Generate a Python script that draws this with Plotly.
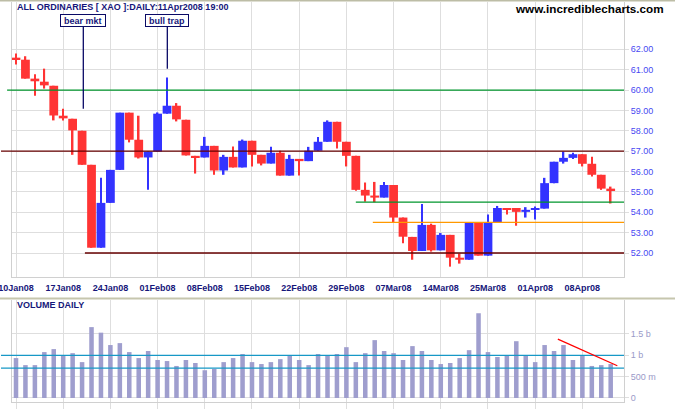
import plotly.graph_objects as go

# ---------------- data ----------------
dates = ["10Jan08", "11Jan08", "14Jan08", "15Jan08", "16Jan08", "17Jan08", "18Jan08",
         "21Jan08", "22Jan08", "23Jan08", "24Jan08", "25Jan08", "29Jan08", "30Jan08",
         "31Jan08", "01Feb08", "04Feb08", "05Feb08", "06Feb08", "07Feb08", "08Feb08",
         "11Feb08", "12Feb08", "13Feb08", "14Feb08", "15Feb08", "18Feb08", "19Feb08",
         "20Feb08", "21Feb08", "22Feb08", "25Feb08", "26Feb08", "27Feb08", "28Feb08",
         "29Feb08", "03Mar08", "04Mar08", "05Mar08", "06Mar08", "07Mar08", "10Mar08",
         "11Mar08", "12Mar08", "13Mar08", "14Mar08", "17Mar08", "18Mar08", "19Mar08",
         "20Mar08", "25Mar08", "26Mar08", "27Mar08", "28Mar08", "31Mar08", "01Apr08",
         "02Apr08", "03Apr08", "04Apr08", "07Apr08", "08Apr08", "09Apr08", "10Apr08",
         "11Apr08"]

opens = [61.59, 61.49, 60.56, 60.41, 60.21, 58.74, 58.59, 58.00, 56.33, 52.26,
         54.46, 56.08, 58.89, 57.56, 56.69, 56.98, 58.84, 59.23, 58.54, 56.77,
         56.69, 57.26, 56.05, 56.72, 56.20, 57.51, 56.82, 56.39, 56.92, 55.80,
         56.62, 56.51, 57.02, 57.46, 58.44, 57.46, 56.77, 55.10, 54.82, 54.72,
         55.34, 53.74, 52.79, 52.10, 53.38, 52.13, 52.89, 51.77, 51.67, 53.51,
         51.87, 53.51, 54.21, 54.21, 54.02, 54.12, 54.18, 55.43, 56.48, 56.67,
         56.85, 56.38, 55.84, 55.16]
highs = [61.79, 61.66, 60.77, 61.05, 60.21, 59.08, 58.59, 58.00, 56.33, 55.70,
         56.08, 58.89, 58.89, 58.74, 56.98, 58.90, 60.61, 59.36, 58.54, 56.77,
         57.70, 57.26, 56.82, 57.23, 57.57, 57.51, 56.82, 57.21, 57.02, 56.82,
         56.62, 57.21, 57.70, 58.51, 58.44, 57.46, 56.77, 55.46, 55.49, 55.49,
         55.34, 53.74, 52.79, 54.41, 53.44, 52.98, 52.89, 51.97, 53.51, 53.51,
         53.89, 54.31, 54.21, 54.21, 54.25, 54.28, 55.69, 56.48, 56.98, 56.92,
         56.85, 56.72, 55.84, 55.26]
lows = [61.25, 60.56, 59.72, 60.07, 58.51, 58.51, 56.82, 56.33, 52.26, 52.26,
        54.46, 56.08, 57.43, 56.64, 55.11, 56.98, 58.84, 58.46, 56.79, 55.90,
        56.69, 55.84, 55.84, 56.20, 56.20, 56.25, 56.30, 56.39, 55.80, 55.80,
        55.80, 56.51, 57.02, 57.46, 57.13, 56.25, 55.05, 54.52, 54.49, 54.72,
        53.49, 52.48, 51.67, 52.10, 52.07, 52.13, 51.33, 51.48, 51.67, 51.87,
        51.87, 53.51, 53.89, 53.34, 53.74, 53.64, 54.18, 55.43, 56.39, 56.62,
        56.25, 55.75, 55.10, 54.43]
closes = [61.51, 60.56, 60.43, 60.23, 58.75, 58.61, 58.02, 56.33, 52.26, 54.46,
          56.08, 58.89, 57.56, 56.69, 56.98, 58.84, 59.23, 58.56, 56.79, 56.69,
          57.26, 56.05, 56.72, 56.20, 57.51, 56.82, 56.39, 56.92, 55.80, 56.62,
          56.51, 57.02, 57.46, 58.44, 57.46, 56.77, 55.10, 54.82, 54.72, 55.34,
          53.74, 52.80, 52.10, 53.38, 52.13, 52.89, 51.77, 51.67, 53.51, 51.87,
          53.51, 54.21, 54.15, 54.02, 54.12, 54.18, 55.43, 56.48, 56.67, 56.85,
          56.38, 55.84, 55.16, 55.07]

# daily volume, billions of shares
volumes = [0.935, 0.77, 0.77, 1.075, 1.145, 1.005, 1.05, 0.84, 1.66, 1.53,
           1.24, 1.285, 1.075, 0.935, 1.10, 0.89, 0.865, 0.75, 0.89, 0.82,
           0.65, 0.68, 0.84, 0.935, 1.03, 0.84, 0.795, 0.84, 0.91, 1.005,
           0.89, 0.77, 1.03, 1.00, 1.03, 1.19, 0.84, 1.05, 1.355, 1.10,
           1.05, 0.89, 1.215, 1.10, 0.89, 0.795, 0.82, 0.935, 1.12, 1.985,
           1.075, 0.96, 1.00, 1.33, 1.00, 0.84, 1.24, 1.10, 1.24, 0.89,
           1.00, 0.75, 0.77, 0.795]

week_ticks = ["10Jan08", "17Jan08", "24Jan08", "01Feb08", "08Feb08", "15Feb08",
              "22Feb08", "29Feb08", "07Mar08", "14Mar08", "25Mar08", "01Apr08", "08Apr08"]
price_ticks = [52, 53, 54, 55, 56, 57, 58, 59, 60, 61, 62]
price_tick_text = ["%.2f" % v for v in price_ticks]
vol_ticks = [0, 0.5, 1.0, 1.5]
vol_tick_text = ["0", "500 m", "1 b", "1.5 b"]

# ---------------- styling ----------------
FONT = "Liberation Sans, Arial, sans-serif"
NAVY = "#16167A"
GRID = "#DEDEDE"
BORDER = "#D0D0D0"
UP = "#3333FF"
DOWN = "#FF3434"

candle_colors = [UP if c >= o else DOWN for o, c in zip(opens, closes)]
body_base = [min(o, c) for o, c in zip(opens, closes)]
body_len = [max(abs(c - o), 0.06) for o, c in zip(opens, closes)]
wick_len = [h - l for h, l in zip(highs, lows)]

fig = go.Figure()

# wicks (high-low range)
fig.add_trace(go.Bar(
    x=dates, y=wick_len, base=lows, width=0.17,
    marker=dict(color=candle_colors, line=dict(width=0)),
    hoverinfo="skip", showlegend=False, xaxis="x", yaxis="y",
))
# bodies (open-close range)
fig.add_trace(go.Bar(
    x=dates, y=body_len, base=body_base, width=0.93,
    marker=dict(color=candle_colors, line=dict(width=0)),
    hoverinfo="skip", showlegend=False, xaxis="x", yaxis="y",
))

fig.add_trace(go.Bar(
    x=dates, y=volumes, width=0.48, marker=dict(color="#9F9ECE", line=dict(width=0)),
    hoverinfo="skip", showlegend=False, xaxis="x2", yaxis="y2",
))

xrange = [-0.424, 64.41]
common_x = dict(type="category", categoryorder="array", categoryarray=dates,
                range=xrange, tickmode="array", tickvals=week_ticks,
                showgrid=True, gridcolor=GRID, gridwidth=1, zeroline=False,
                showline=True, linecolor=BORDER, linewidth=1, fixedrange=True,
                automargin=False)

fig.update_layout(
    width=675, height=410,
    margin=dict(l=12, r=51, t=2, b=8, autoexpand=False),
    paper_bgcolor="white", plot_bgcolor="white",
    barmode="overlay",
    font=dict(family=FONT, size=9, color=NAVY),
    xaxis=dict(common_x, domain=[0, 1], anchor="y",
               ticks="", showticklabels=True, ticklabelstandoff=2,
               tickfont=dict(family=FONT, size=9, color=NAVY, weight="bold")),
    yaxis=dict(domain=[0.3125, 1], range=[50.822, 64.322], side="right",
               tickmode="array", tickvals=price_ticks, ticktext=price_tick_text,
               showgrid=True, gridcolor=GRID, gridwidth=1, zeroline=False,
               showline=True, mirror=True, linecolor=BORDER, automargin=False,
               ticks="outside", ticklen=4, tickcolor=GRID,
               tickfont=dict(family=FONT, size=9, color="#4747F2"), fixedrange=True),
    xaxis2=dict(common_x, domain=[0, 1], anchor="y2", ticks="outside", ticklen=6,
                tickcolor=GRID, showticklabels=False),
    yaxis2=dict(domain=[0, 0.255], range=[-0.094, 2.295], side="right",
                tickmode="array", tickvals=vol_ticks, ticktext=vol_tick_text,
                showgrid=True, gridcolor=GRID, gridwidth=1, zeroline=False,
                showline=True, mirror=True, linecolor=BORDER, automargin=False,
                ticks="outside", ticklen=4, tickcolor=GRID,
                tickfont=dict(family=FONT, size=9, color="#9A9AC8"), fixedrange=True),
)

shapes = [
    # chart frame lines
    dict(type="line", xref="paper", yref="paper", x0=-0.03, x1=1.1, y0=1.004, y1=1.004,
         line=dict(color="#BDBDA6", width=2)),
    dict(type="line", xref="paper", yref="paper", x0=-0.03, x1=1.1, y0=0.259, y1=0.259,
         line=dict(color="#C6C6AE", width=2)),
    # support / resistance lines on price
    dict(type="line", xref="paper", yref="y", x0=-0.008, x1=1, y0=60, y1=60,
         line=dict(color="#00962D", width=1.3)),
    dict(type="line", xref="paper", yref="y", x0=-0.018, x1=1, y0=57, y1=57,
         line=dict(color="#660000", width=1.3)),
    dict(type="line", xref="x", yref="y", x0=7.3, x1=xrange[1], y0=52, y1=52,
         line=dict(color="#660000", width=1.3)),
    dict(type="line", xref="x", yref="y", x0=36, x1=xrange[1], y0=54.5, y1=54.5,
         line=dict(color="#00962D", width=1.3)),
    dict(type="line", xref="x", yref="y", x0=37.8, x1=xrange[1], y0=53.5, y1=53.5,
         line=dict(color="#FF9900", width=1.3)),
    # volume reference lines
    dict(type="line", xref="paper", yref="y2", x0=-0.018, x1=1, y0=1.0, y1=1.0,
         line=dict(color="#1798C6", width=1.3)),
    dict(type="line", xref="paper", yref="y2", x0=-0.018, x1=1, y0=0.70, y1=0.70,
         line=dict(color="#1798C6", width=1.3)),
    # declining volume trend
    dict(type="line", xref="x2", yref="y2", x0=57.4, x1=63.7, y0=1.38, y1=0.755,
         line=dict(color="#FF0000", width=1.3)),
]
fig.update_layout(shapes=shapes)

annotations = [
    dict(text="ALL ORDINARIES [ XAO ]:DAILY:11Apr2008 19:00", xref="paper", yref="paper",
         x=0.0049, y=0.988, xanchor="left", yanchor="middle", showarrow=False,
         font=dict(family=FONT, size=9, color=NAVY, weight="bold")),
    dict(text="www.incrediblecharts.com", xref="paper", yref="paper",
         x=1.0686, y=0.984, xanchor="right", yanchor="middle", showarrow=False,
         font=dict(family=FONT, size=11.7, color="black", weight="bold")),
    dict(text="VOLUME DAILY", xref="paper", yref="paper",
         x=0.0049, y=0.242, xanchor="left", yanchor="middle", showarrow=False,
         font=dict(family=FONT, size=9, color=NAVY, weight="bold")),
    dict(text="&nbsp;bear mkt&nbsp;", xref="x", yref="y", x=7.13, y=59.08,
         ax=0, ay=-88.5, showarrow=True, arrowhead=0, arrowwidth=1.3, arrowcolor="#0A0A66",
         bgcolor="white", bordercolor="#0A0A66", borderwidth=1, borderpad=0.5,
         font=dict(family=FONT, size=9, color=NAVY, weight="bold")),
    dict(text="&nbsp;bull trap&nbsp;", xref="x", yref="y", x=16.03, y=61.05,
         ax=0, ay=-48.2, showarrow=True, arrowhead=0, arrowwidth=1.3, arrowcolor="#0A0A66",
         bgcolor="white", bordercolor="#0A0A66", borderwidth=1, borderpad=0.5,
         font=dict(family=FONT, size=9, color=NAVY, weight="bold")),
]
fig.update_layout(annotations=annotations)

fig.write_html("out.html", config={"displayModeBar": False})
